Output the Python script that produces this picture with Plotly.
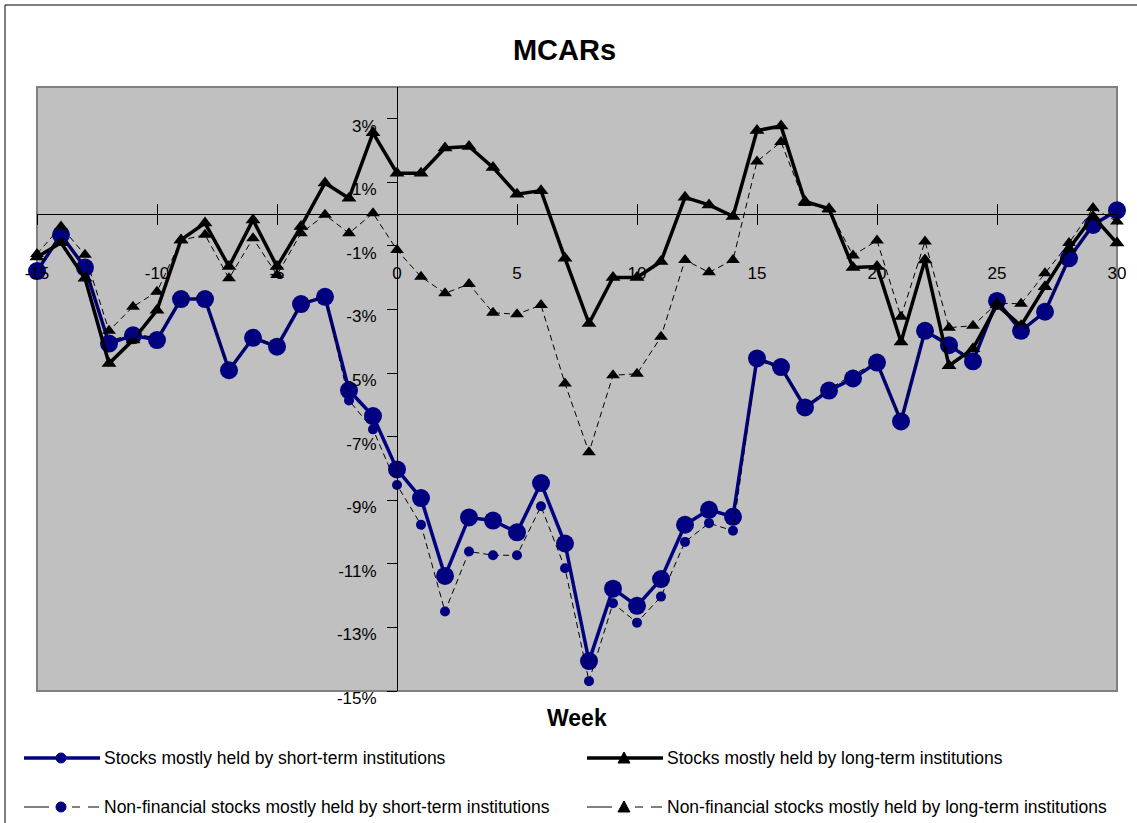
import plotly.graph_objects as go

weeks = list(range(-15, 31))

short_term = [-1.79, -0.65, -1.68, -4.07, -3.81, -3.96, -2.67, -2.67, -4.91, -3.89,
              -4.17, -2.83, -2.60, -5.54, -6.35, -8.03, -8.93, -11.38, -9.54, -9.64,
              -10.01, -8.46, -10.36, -14.06, -11.78, -12.32, -11.48, -9.77, -9.30, -9.52,
              -4.54, -4.81, -6.08, -5.55, -5.17, -4.67, -6.52, -3.67, -4.12, -4.63,
              -2.73, -3.67, -3.07, -1.39, -0.34, 0.12]

long_term = [-1.35, -0.90, -2.02, -4.70, -3.96, -3.02, -0.81, -0.28, -1.65, -0.18,
             -1.65, -0.39, 0.98, 0.50, 2.56, 1.29, 1.29, 2.08, 2.13, 1.47,
             0.63, 0.74, -1.39, -3.44, -1.99, -1.99, -1.49, 0.53, 0.29, -0.07,
             2.63, 2.77, 0.40, 0.17, -1.68, -1.65, -4.02, -1.44, -4.77, -4.23,
             -2.86, -3.51, -2.28, -1.09, -0.07, -0.91]

nonfin_short = [-1.75, -0.60, -1.65, -4.00, -3.75, -3.90, -2.65, -2.65, -4.90, -3.85,
                -4.15, -2.80, -2.60, -5.86, -6.77, -8.52, -9.77, -12.50, -10.61, -10.73,
                -10.73, -9.19, -11.14, -14.69, -12.24, -12.85, -12.03, -10.31, -9.72, -9.96,
                -4.60, -4.85, -6.05, -5.50, -5.05, -4.65, -6.50, -3.65, -4.05, -4.60,
                -2.75, -3.65, -3.05, -1.40, -0.35, 0.12]

nonfin_long = [-1.25, -0.39, -1.28, -3.67, -2.91, -2.44, -0.82, -0.65, -2.02, -0.76,
               -1.91, -0.60, -0.02, -0.60, 0.03, -1.13, -1.97, -2.49, -2.20, -3.10,
               -3.15, -2.86, -5.33, -7.49, -5.07, -5.02, -3.86, -1.44, -1.83, -1.44,
               1.66, 2.27, 0.35, 0.15, -1.30, -0.83, -3.23, -0.86, -3.57, -3.51,
               -2.80, -2.82, -1.86, -0.91, 0.19, -0.23]

names = ["Stocks mostly held by short-term institutions",
         "Stocks mostly held by long-term institutions",
         "Non-financial stocks mostly held by short-term institutions",
         "Non-financial stocks mostly held by long-term institutions"]

x_ticks = list(range(-15, 31, 5))
x_tick_text = [str(v) for v in x_ticks]
y_ticks = list(range(-15, 4, 2))
y_tick_text = [f"{v}%" for v in y_ticks]

FONT = "Liberation Sans, Arial, sans-serif"
NAVY = "#000080"

W, H = 1137, 823
L, R, T, B = 37, 1117, 87, 691


def px_x(p):
    return (p - L) / (R - L)


def px_y(p):
    return (B - p) / (B - T)


fig = go.Figure()
fig.add_trace(go.Scatter(x=weeks, y=short_term, name=names[0], mode="lines+markers",
                         line=dict(color=NAVY, width=3.5),
                         marker=dict(symbol="circle", size=18, color=NAVY),
                         cliponaxis=False))
fig.add_trace(go.Scatter(x=weeks, y=long_term, name=names[1], mode="lines+markers",
                         line=dict(color="black", width=3.5),
                         marker=dict(symbol="triangle-up", size=13, color="black"),
                         cliponaxis=False))
fig.add_trace(go.Scatter(x=weeks, y=nonfin_short, name=names[2], mode="lines+markers",
                         line=dict(color="black", width=1, dash="6px,4px"),
                         marker=dict(symbol="circle", size=10, color=NAVY),
                         cliponaxis=False))
fig.add_trace(go.Scatter(x=weeks, y=nonfin_long, name=names[3], mode="lines+markers",
                         line=dict(color="black", width=1, dash="6px,4px"),
                         marker=dict(symbol="triangle-up", size=12, color="black"),
                         cliponaxis=False))
# empty helper trace so the inner-tick overlay axis is drawn
fig.add_trace(go.Scatter(x=[], y=[], xaxis="x2", yaxis="y", showlegend=False,
                         hoverinfo="skip"))

fig.update_layout(
    width=W, height=H, autosize=False,
    margin=dict(l=L, r=W - R, t=T, b=H - B, autoexpand=False),
    paper_bgcolor="white", plot_bgcolor="#C0C0C0",
    font=dict(family=FONT, size=17, color="black"),
    showlegend=False,
    title=dict(text="<b>MCARs</b>", x=0.4965, xanchor="center", y=1 - 50 / H,
               yanchor="middle", yref="container",
               font=dict(family=FONT, size=29, color="black")),
    xaxis=dict(range=[-15, 30], tickmode="array", tickvals=x_ticks, ticktext=x_tick_text,
               ticks="outside", ticklen=10, tickcolor="black", tickwidth=1,
               showline=True, linecolor="black", linewidth=1,
               showgrid=False, zeroline=False,
               anchor="free", position=15 / 19,
               ticklabelstandoff=33,
               tickfont=dict(family=FONT, size=17, color="black")),
    xaxis2=dict(range=[-15, 30], overlaying="x", matches="x", tickmode="array",
                tickvals=x_ticks, ticks="inside", ticklen=10, tickcolor="black",
                showline=False, showgrid=False, zeroline=False,
                showticklabels=False, anchor="free", position=15 / 19),
    yaxis=dict(range=[-15, 4], tickmode="array", tickvals=y_ticks, ticktext=y_tick_text,
               ticks="outside", ticklen=10, tickcolor="black",
               showline=True, linecolor="black", linewidth=1,
               showgrid=False, zeroline=False,
               anchor="free", position=1 / 3,
               ticklabelstandoff=7, ticklabelshift=7,
               tickfont=dict(family=FONT, size=17, color="black")),
)

fig.add_annotation(text="<b>Week</b>", xref="paper", yref="paper",
                   x=px_x(577), y=px_y(718), xanchor="center", yanchor="middle",
                   showarrow=False, font=dict(family=FONT, size=23, color="black"))

# plot-area frame
fig.add_shape(type="rect", xref="paper", yref="paper", x0=0, x1=1, y0=0, y1=1,
              line=dict(color="#808080", width=2), layer="below")
# outer chart frame (left and top edges visible)
fig.add_shape(type="line", xref="paper", yref="paper",
              x0=px_x(5), x1=px_x(5), y0=px_y(5), y1=px_y(830),
              line=dict(color="black", width=1))
fig.add_shape(type="line", xref="paper", yref="paper",
              x0=px_x(5), x1=px_x(1140), y0=px_y(5), y1=px_y(5),
              line=dict(color="black", width=1))

# ---- legend (drawn as a key below the chart) ----
legend_items = [
    # (name, column start px, row y px, line colour, width, solid?, marker, marker colour)
    (names[0], 24, 758, NAVY, 3.5, True, "circle", NAVY),
    (names[1], 587, 758, "black", 3.5, True, "triangle", "black"),
    (names[2], 24, 807, "black", 1, False, "circle", NAVY),
    (names[3], 587, 807, "black", 1, False, "triangle", "black"),
]
for name, x0p, yp, lc, lw, solid, sym, mc in legend_items:
    mx = x0p + 37
    if solid:
        fig.add_shape(type="line", xref="paper", yref="paper",
                      x0=px_x(x0p), x1=px_x(x0p + 76), y0=px_y(yp), y1=px_y(yp),
                      line=dict(color=lc, width=lw))
    else:
        for a, b in [(x0p, x0p + 25), (x0p + 48, x0p + 56), (x0p + 64, x0p + 75)]:
            fig.add_shape(type="line", xref="paper", yref="paper",
                          x0=px_x(a), x1=px_x(b), y0=px_y(yp), y1=px_y(yp),
                          line=dict(color=lc, width=lw))
    if sym == "circle":
        fig.add_shape(type="circle", xref="paper", yref="paper",
                      x0=px_x(mx - 5), x1=px_x(mx + 5), y0=px_y(yp + 5), y1=px_y(yp - 5),
                      fillcolor=mc, line=dict(color=mc, width=1))
    else:
        path = "M {:.5f} {:.5f} L {:.5f} {:.5f} L {:.5f} {:.5f} Z".format(
            px_x(mx - 6), px_y(yp + 5), px_x(mx + 6), px_y(yp + 5), px_x(mx), px_y(yp - 6))
        fig.add_shape(type="path", xref="paper", yref="paper", path=path,
                      fillcolor=mc, line=dict(color=mc, width=1))
    fig.add_annotation(text=name, xref="paper", yref="paper",
                       x=px_x(x0p + 78), y=px_y(yp), xanchor="left", yanchor="middle",
                       showarrow=False, font=dict(family=FONT, size=17.5, color="black"))

fig.write_html("out.html", include_plotlyjs=True, full_html=True,
               config={"displayModeBar": False},
               post_script="document.body.style.margin='0';document.body.style.overflow='hidden';")
